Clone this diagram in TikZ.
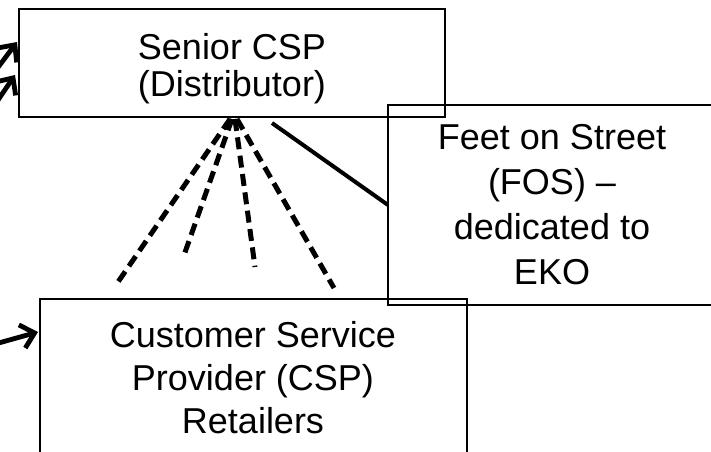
\documentclass[tikz,border=0pt]{standalone}
\usepackage{fontspec}
\setmainfont{Liberation Sans}
\usetikzlibrary{arrows.meta}
\begin{document}
\begin{tikzpicture}[x=1pt,y=-1pt,
  box/.style={draw=black, line width=1.5pt, inner sep=0pt, outer sep=0pt},
  txt/.style={align=center, inner sep=0pt, outer sep=0pt, anchor=north},
  dashln/.style={line width=5pt, dash pattern=on 12pt off 6.5pt},
  solidln/.style={line width=4pt},
  arr/.style={line width=4.8pt, -{Straight Barb[length=13pt,width=24pt]}}]
\clip (0,0) rectangle (711,451);
\useasboundingbox (0,0) rectangle (711,451);
% boxes
\node[box, minimum width=426pt, minimum height=108pt] (senior) at (232,63) {};
\node[box, minimum width=328pt, minimum height=200pt] (fos) at (552,205) {};
\node[box, minimum width=427pt, minimum height=157pt] (csp) at (253.5,377.5) {};
% texts
\node[txt, font=\fontsize{36pt}{37pt}\selectfont] (seniortxt) at (232,33) {Senior CSP\\(Distributor)};
\node[txt, font=\fontsize{36pt}{45pt}\selectfont] (fostxt) at (552,124) {Feet on Street\\(FOS) –\\dedicated to\\EKO};
\node[txt, font=\fontsize{36pt}{43pt}\selectfont] (csptxt) at (253,321) {Customer Service\\Provider (CSP)\\Retailers};
% free ends
\coordinate (d1) at (118,282);
\coordinate (d2) at (183,258);
\coordinate (d3) at (255,267);
\coordinate (d4) at (334,288);
\coordinate (c5) at (272,123);
\coordinate (a1) at (-4,70);
\coordinate (a2) at (-4,103);
\coordinate (a3) at (-5,344);
% dashed connectors
\draw[dashln] ([xshift=-2pt,yshift=-2pt]senior.south) -- (d1);
\draw[dashln] ([xshift=0pt,yshift=-2pt]senior.south) -- (d2);
\draw[dashln] ([xshift=3pt,yshift=-2pt]senior.south) -- (d3);
\draw[dashln] ([xshift=5pt,yshift=-2pt]senior.south) -- (d4);
% solid connector
\draw[solidln] (c5) -- (fos.west);
% arrows
\draw[arr] (a1) -- ([yshift=21pt,xshift=-2pt]senior.west);
\draw[arr] (a2) -- ([yshift=-12pt,xshift=-4pt]senior.west);
\draw[arr] (a3) -- ([yshift=45.5pt,xshift=-2pt]csp.west);
\end{tikzpicture}
\end{document}
